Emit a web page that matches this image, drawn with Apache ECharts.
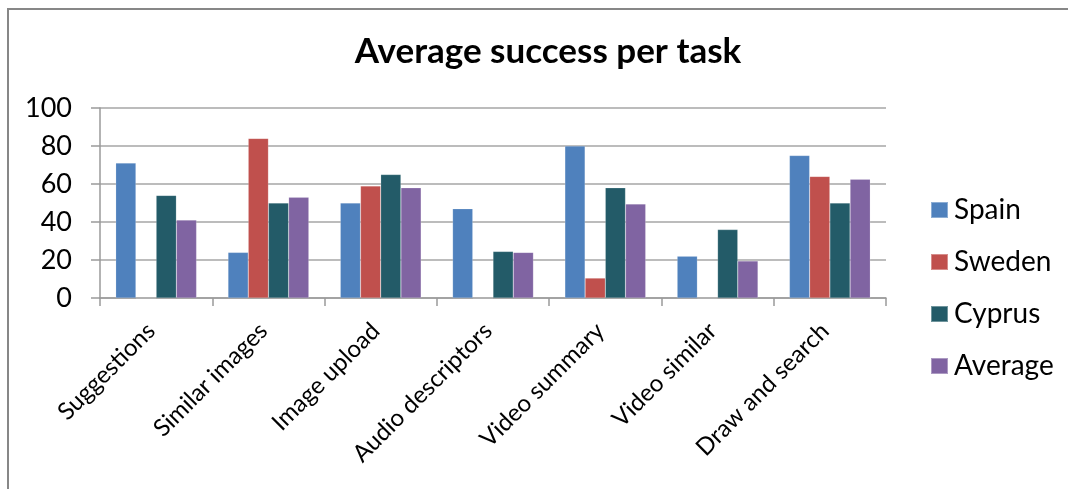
<!DOCTYPE html>
<html>
<head>
<meta charset="utf-8">
<style>
  html, body { margin: 0; padding: 0; background: #fff; }
  #chart { width: 1068px; height: 489px; }
</style>
<script src="https://cdn.jsdelivr.net/npm/echarts@6/dist/echarts.min.js"></script>
</head>
<body>
<div id="chart"></div>
<script>
// Tasks on the category axis
const tasks = ['Suggestions', 'Similar images', 'Image upload', 'Audio descriptors',
               'Video summary', 'Video similar', 'Draw and search'];

// Success per task (%) for each site and their average
const spain   = [71, 24, 50, 47, 80, 22, 75];
const sweden  = [0, 84, 59, 0, 10.5, 0, 64];
const cyprus  = [54, 50, 65, 24.5, 58, 36, 50];
const average = [41, 53, 58, 24, 49.5, 19.5, 62.5];

const yTicks = { min: 0, max: 100, interval: 20 };

const font = 'Lato, "Open Sans", sans-serif';
const colors = ['#4F81BD', '#C0504D', '#235B68', '#8064A2'];

const chart = echarts.init(document.getElementById('chart'), null, { renderer: 'canvas' });

function barSeries(name, data) {
  return {
    name: name,
    type: 'bar',
    data: data,
    barGap: '0%',
    barCategoryGap: '28%',
    itemStyle: { borderColor: 'rgba(255,255,255,0.35)', borderWidth: 0.5 }
  };
}

chart.setOption({
  animation: false,
  color: colors,
  textStyle: { fontFamily: font },
  title: {
    text: 'Average success per task',
    left: 543,
    textAlign: 'center',
    top: 29,
    textStyle: { fontFamily: font, fontSize: 35, fontWeight: 'bold', color: '#000' }
  },
  legend: {
    orient: 'vertical',
    left: 925,
    top: 190,
    itemWidth: 17,
    itemHeight: 16,
    itemGap: 22,
    icon: 'rect',
    textStyle: { fontFamily: font, fontSize: 28, color: '#000', padding: [0, 0, 0, 1], lineHeight: 30 },
    data: ['Spain', 'Sweden', 'Cyprus', 'Average']
  },
  grid: { left: 100, right: 182, top: 108, bottom: 191, containLabel: false },
  xAxis: {
    type: 'category',
    data: tasks,
    axisLine: { show: true, lineStyle: { color: '#9a9a9a', width: 1.5 } },
    axisTick: { show: true, length: 8, alignWithLabel: false, lineStyle: { color: '#9a9a9a', width: 1.5 } },
    axisLabel: { rotate: 45, fontSize: 24, color: '#000', fontFamily: font, margin: 24,
                 padding: [0, 7, 0, 0], interval: 0 }
  },
  yAxis: {
    type: 'value',
    min: yTicks.min,
    max: yTicks.max,
    interval: yTicks.interval,
    axisLine: { show: true, lineStyle: { color: '#9a9a9a', width: 1.5 } },
    axisTick: { show: true, length: 9, lineStyle: { color: '#9a9a9a', width: 1.5 } },
    axisLabel: { fontSize: 27, color: '#000', fontFamily: font, margin: 28 },
    splitLine: { show: true, lineStyle: { color: '#a6a6a6', width: 1.5 } }
  },
  series: [
    barSeries('Spain', spain),
    barSeries('Sweden', sweden),
    barSeries('Cyprus', cyprus),
    barSeries('Average', average)
  ],
  // Frame of the chart area: left and top edges run off the page
  graphic: [{
    type: 'polyline',
    shape: { points: [[8, 500], [8, 9], [1080, 9]] },
    style: { fill: null, stroke: '#878787', lineWidth: 2 },
    silent: true
  }]
});
</script>
</body>
</html>
